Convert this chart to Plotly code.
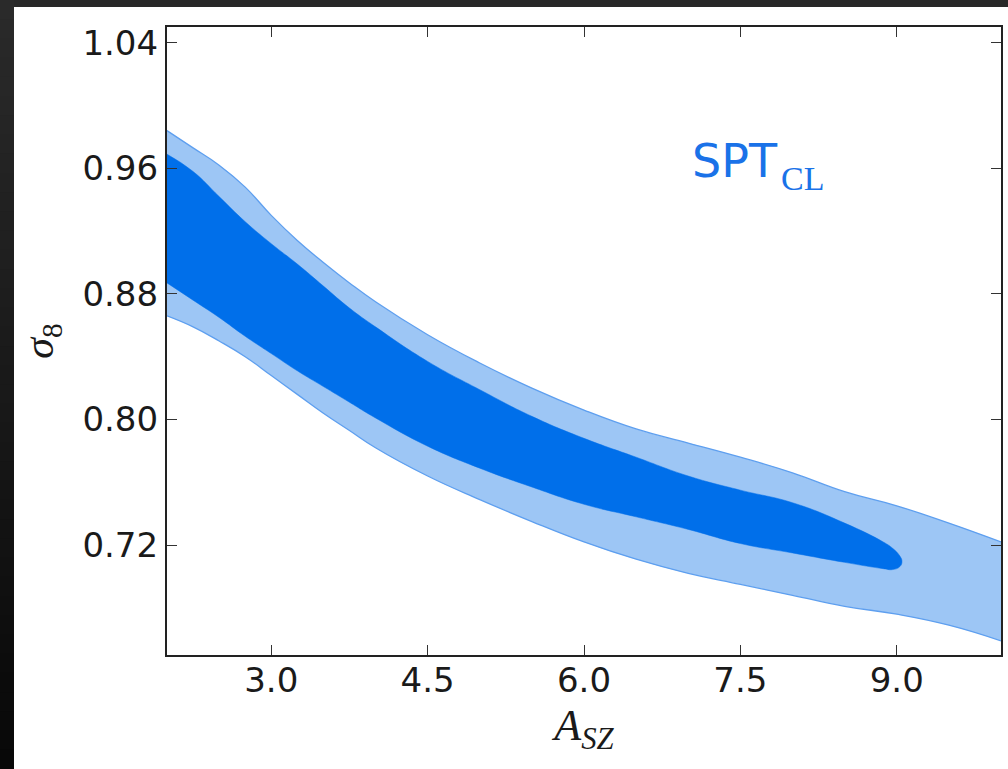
import plotly.graph_objects as go

# Marginalised constraints in the (A_SZ, sigma_8) plane: 68% and 95% regions
A_GRID = [2.0, 2.25, 2.5, 2.75, 3.0, 3.25, 3.5, 3.75, 4.0, 4.5, 5.0, 5.5,
          6.0, 6.5, 7.0, 7.5, 8.0, 8.5, 9.0, 9.5, 10.0]
S8_OUTER_HI = [0.984, 0.973, 0.962, 0.948, 0.930, 0.914, 0.900, 0.887, 0.875,
               0.854, 0.836, 0.820, 0.806, 0.794, 0.785, 0.776, 0.766, 0.754,
               0.745, 0.734, 0.722]
S8_OUTER_LO = [0.866, 0.859, 0.850, 0.840, 0.828, 0.816, 0.804, 0.793, 0.782,
               0.764, 0.749, 0.735, 0.722, 0.711, 0.702, 0.695, 0.688, 0.681,
               0.676, 0.669, 0.659]

A_INNER_HI = [2.0, 2.25, 2.5, 2.75, 3.0, 3.25, 3.5, 3.75, 4.0, 4.5, 5.0, 5.5,
              6.0, 6.5, 7.0, 7.5, 8.0, 8.5, 8.87, 8.96, 9.03, 9.05]
S8_INNER_HI = [0.969, 0.958, 0.942, 0.926, 0.912, 0.899, 0.885, 0.871, 0.859,
               0.837, 0.819, 0.802, 0.788, 0.776, 0.764, 0.755, 0.747, 0.734,
               0.722, 0.718, 0.713, 0.7095]
A_INNER_LO = [2.0, 2.25, 2.5, 2.75, 3.0, 3.25, 3.5, 3.75, 4.0, 4.5, 5.0, 5.5,
              6.0, 6.5, 7.0, 7.5, 8.0, 8.5, 8.87, 8.96, 9.03]
S8_INNER_LO = [0.887, 0.876, 0.865, 0.853, 0.842, 0.831, 0.821, 0.811, 0.801,
               0.783, 0.769, 0.757, 0.746, 0.738, 0.730, 0.721, 0.715, 0.709,
               0.705, 0.7044, 0.7063]

X_TICKS = [3.0, 4.5, 6.0, 7.5, 9.0]
Y_TICKS = [0.72, 0.80, 0.88, 0.96, 1.04]

DARK = "#006FEA"
LIGHT = "#9DC6F5"
EDGE = "#5E9FEF"
INK = "#1a1a1a"

W, H = 1008, 769
ML, MR, MT, MB = 167, 7, 27, 114
PW, PH = W - ML - MR, H - MT - MB

fig = go.Figure()

spl = dict(shape="spline", smoothing=1.3)

# 95% band: lower edge, then upper edge filled down to it
fig.add_trace(go.Scatter(
    x=A_GRID, y=S8_OUTER_LO, mode="lines",
    line=dict(color=EDGE, width=1.3, **spl),
    hoverinfo="skip", showlegend=False))
fig.add_trace(go.Scatter(
    x=A_GRID, y=S8_OUTER_HI, mode="lines", fill="tonexty", fillcolor=LIGHT,
    line=dict(color=EDGE, width=1.3, **spl),
    hoverinfo="skip", showlegend=False))

# 68% region as a closed contour
fig.add_trace(go.Scatter(
    x=A_INNER_HI + A_INNER_LO[::-1], y=S8_INNER_HI + S8_INNER_LO[::-1],
    mode="lines", fill="toself", fillcolor=DARK,
    line=dict(color=DARK, width=0.5, **spl),
    hoverinfo="skip", showlegend=False))


def px_x(px):
    return (px - ML) / PW


def px_y(py):
    return (H - MB - py) / PH


# dark slide border: top band and a left band fading to black
shapes = [dict(type="rect", xref="paper", yref="paper",
               x0=px_x(-5), x1=px_x(W + 5), y0=px_y(7), y1=px_y(-5),
               fillcolor="#282828", line=dict(width=0), layer="above")]
n = 40
for i in range(n):
    t = i / (n - 1)
    c = int(round(42 - 34 * t))
    y0 = i * H / n
    y1 = (i + 1) * H / n + 1
    shapes.append(dict(type="rect", xref="paper", yref="paper",
                       x0=px_x(-5), x1=px_x(14), y0=px_y(y1), y1=px_y(y0),
                       fillcolor=f"rgb({c},{c},{c})", line=dict(width=0),
                       layer="above"))

annotations = [
    dict(text="SPT", xref="paper", yref="paper", x=px_x(690), y=px_y(161),
         xanchor="left", yanchor="middle", showarrow=False,
         font=dict(family="DejaVu Sans", size=46, color="#1A72E8")),
    dict(text="CL", xref="paper", yref="paper", x=px_x(779), y=px_y(179),
         xanchor="left", yanchor="middle", showarrow=False,
         font=dict(family="Liberation Serif", size=34, color="#1A72E8")),
]

axis_common = dict(
    showgrid=False, zeroline=False, showline=True, linecolor="#222222",
    linewidth=2.2, mirror="ticks", ticks="inside", ticklen=10, tickwidth=1.3,
    tickcolor="#333333", tickfont=dict(family="DejaVu Sans", size=34, color=INK),
)

fig.update_layout(
    width=W, height=H,
    margin=dict(l=ML, r=MR, t=MT, b=MB, autoexpand=False),
    paper_bgcolor="white", plot_bgcolor="white",
    shapes=shapes, annotations=annotations,
    xaxis=dict(range=[2, 10], tickvals=X_TICKS,
               ticktext=[f"{v:.1f}" for v in X_TICKS],
               ticklabelstandoff=-6,
               title=dict(text="<i>A</i><sub><i>SZ</i></sub>", standoff=10,
                          font=dict(family="Liberation Serif", size=44, color=INK)),
               **axis_common),
    yaxis=dict(range=[0.65, 1.05], tickvals=Y_TICKS,
               ticktext=[f"{v:.2f}" for v in Y_TICKS],
               title=dict(text="<i>σ</i><sub>8</sub>", standoff=16,
                          font=dict(family="Liberation Serif", size=42, color=INK)),
               **axis_common),
)

fig.write_html("out.html")
